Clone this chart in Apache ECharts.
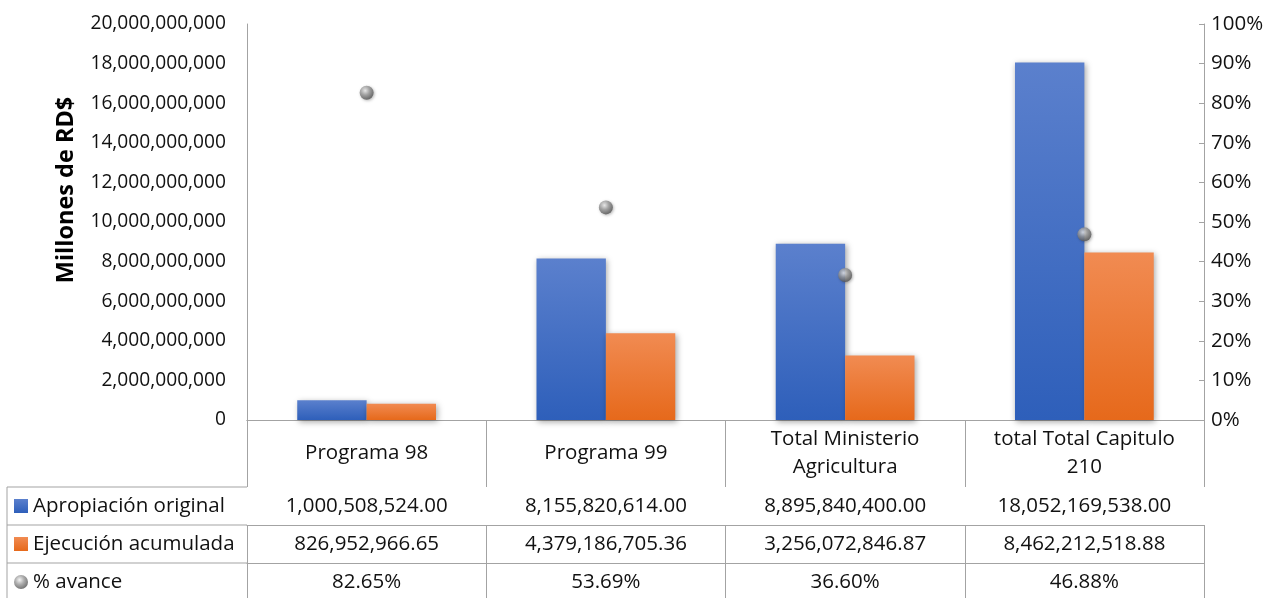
<!DOCTYPE html>
<html>
<head>
<meta charset="utf-8">
<script src="https://cdn.jsdelivr.net/npm/echarts@6/dist/echarts.min.js"></script>
<style>html,body{margin:0;padding:0;background:#fff;}#c{width:1275px;height:598px;}</style>
</head>
<body>
<div id="c"></div>
<script>
// ---- data ----
const categories = ['Programa 98', 'Programa 99', 'Total Ministerio\nAgricultura', 'total Total Capitulo\n210'];
const apropiacion = [1000508524.00, 8155820614.00, 8895840400.00, 18052169538.00];
const ejecucion = [826952966.65, 4379186705.36, 3256072846.87, 8462212518.88];
const avance = [0.8265, 0.5369, 0.3660, 0.4688];
const seriesNames = ['Apropiación original', 'Ejecución acumulada', '% avance'];

// ---- layout ----
const FONT = 'Open Sans';
const FS = 20.5;
const FS_Y = 19.2;
const TXT = '#111';
const LINE = '#a3a3a3';
const GL = 247, GR = 71, GT = 24, GB = 178;
const H0 = 67, RH = 38, TABLE_L = 7;
const W = 1275, H = 598;
const axisY = H - GB;

const money = v => v.toLocaleString('en-US', {minimumFractionDigits: 2, maximumFractionDigits: 2});
const pct = v => (v * 100).toFixed(2) + '%';
const rows = [apropiacion.map(money), ejecucion.map(money), avance.map(pct)];

const chart = echarts.init(document.getElementById('c'), null, {renderer: 'canvas'});

function tableAxis(i) {
  return {
    type: 'category', gridIndex: 0, position: 'bottom', offset: H0 + RH * i,
    data: categories,
    axisLine: {show: true, lineStyle: {color: LINE, width: 1}},
    axisTick: {show: true, length: RH, inside: false, interval: 0, lineStyle: {color: LINE, width: 1}},
    axisLabel: {
      show: true, interval: 0, margin: RH / 2, verticalAlign: 'middle',
      fontFamily: FONT, fontSize: FS, color: TXT,
      formatter: (v, idx) => rows[i][idx]
    }
  };
}

const barShadow = {shadowBlur: 6, shadowColor: 'rgba(0,0,0,0.35)', shadowOffsetX: 1.5, shadowOffsetY: 1.5};

const option = {
  animation: false,
  textStyle: {fontFamily: FONT},
  grid: {left: GL, right: GR, top: GT, bottom: GB, containLabel: false},
  legend: {
    orient: 'vertical', left: TABLE_L + 7, top: axisY + H0 + RH / 2 - 12,
    padding: 0, height: 110,
    itemWidth: 14, itemHeight: 14, itemGap: 14,
    textStyle: {fontFamily: FONT, fontSize: FS, color: TXT, lineHeight: 24},
    data: [
      {name: seriesNames[0], icon: 'rect'},
      {name: seriesNames[1], icon: 'rect'},
      {name: seriesNames[2], icon: 'circle'}
    ]
  },
  xAxis: [
    {
      type: 'category', gridIndex: 0, position: 'bottom', data: categories,
      axisLine: {show: true, lineStyle: {color: LINE, width: 1}},
      axisTick: {show: true, length: H0, inside: false, interval: 0, lineStyle: {color: LINE, width: 1}},
      axisLabel: {
        show: true, interval: 0, margin: H0 / 2, verticalAlign: 'middle', align: 'center',
        fontFamily: FONT, fontSize: FS, color: TXT, lineHeight: 28
      }
    },
    tableAxis(0), tableAxis(1), tableAxis(2)
  ],
  yAxis: [
    {
      type: 'value', min: 0, max: 20000000000, interval: 2000000000,
      axisLine: {show: true, lineStyle: {color: LINE, width: 1}},
      axisTick: {show: false},
      splitLine: {show: false},
      axisLabel: {margin: 21, fontFamily: FONT, fontSize: FS_Y, color: TXT,
        formatter: v => v.toLocaleString('en-US')}
    },
    {
      type: 'value', position: 'right', min: 0, max: 1, interval: 0.1,
      axisLine: {show: true, lineStyle: {color: LINE, width: 1}},
      axisTick: {show: true, inside: true, length: 5, lineStyle: {color: LINE}},
      splitLine: {show: false},
      axisLabel: {margin: 7, fontFamily: FONT, fontSize: FS, color: TXT,
        formatter: v => Math.round(v * 100) + '%'}
    }
  ],
  series: [
    {
      name: seriesNames[0], type: 'bar', xAxisIndex: 0, yAxisIndex: 0, data: apropiacion,
      barCategoryGap: '42%', barGap: '0%',
      itemStyle: Object.assign({
        color: new echarts.graphic.LinearGradient(0, 0, 0, 1, [
          {offset: 0, color: '#5b80cd'}, {offset: 1, color: '#2e5fba'}])
      }, barShadow)
    },
    {
      name: seriesNames[1], type: 'bar', xAxisIndex: 0, yAxisIndex: 0, data: ejecucion,
      barCategoryGap: '42%', barGap: '0%',
      itemStyle: Object.assign({
        color: new echarts.graphic.LinearGradient(0, 0, 0, 1, [
          {offset: 0, color: '#f18b52'}, {offset: 1, color: '#e6691b'}])
      }, barShadow)
    },
    {
      name: seriesNames[2], type: 'scatter', xAxisIndex: 0, yAxisIndex: 1, data: avance,
      symbol: 'circle', symbolSize: 14, z: 5,
      itemStyle: {
        color: new echarts.graphic.RadialGradient(0.4, 0.35, 0.7, [
          {offset: 0, color: '#f2f2f2'}, {offset: 0.45, color: '#9a9a9a'}, {offset: 1, color: '#4a4a4a'}]),
        shadowBlur: 3, shadowColor: 'rgba(0,0,0,0.35)', shadowOffsetX: 1, shadowOffsetY: 1
      }
    }
  ],
  graphic: [
    {
      type: 'text', x: 66, y: 190, rotation: Math.PI / 2,
      style: {text: 'Millones de RD$', fontFamily: FONT, fontSize: 23.5, fontWeight: 'bold', fill: '#000',
        textAlign: 'center', textVerticalAlign: 'middle'}
    },
    {type: 'line', shape: {x1: TABLE_L, y1: axisY + H0, x2: GL, y2: axisY + H0}, style: {stroke: LINE, lineWidth: 1}},
    {type: 'line', shape: {x1: TABLE_L, y1: axisY + H0 + RH, x2: GL, y2: axisY + H0 + RH}, style: {stroke: LINE, lineWidth: 1}},
    {type: 'line', shape: {x1: TABLE_L, y1: axisY + H0 + 2 * RH, x2: GL, y2: axisY + H0 + 2 * RH}, style: {stroke: LINE, lineWidth: 1}},
    {type: 'line', shape: {x1: TABLE_L, y1: axisY + H0, x2: TABLE_L, y2: H}, style: {stroke: LINE, lineWidth: 1}}
  ]
};
chart.setOption(option);
</script>
</body>
</html>
